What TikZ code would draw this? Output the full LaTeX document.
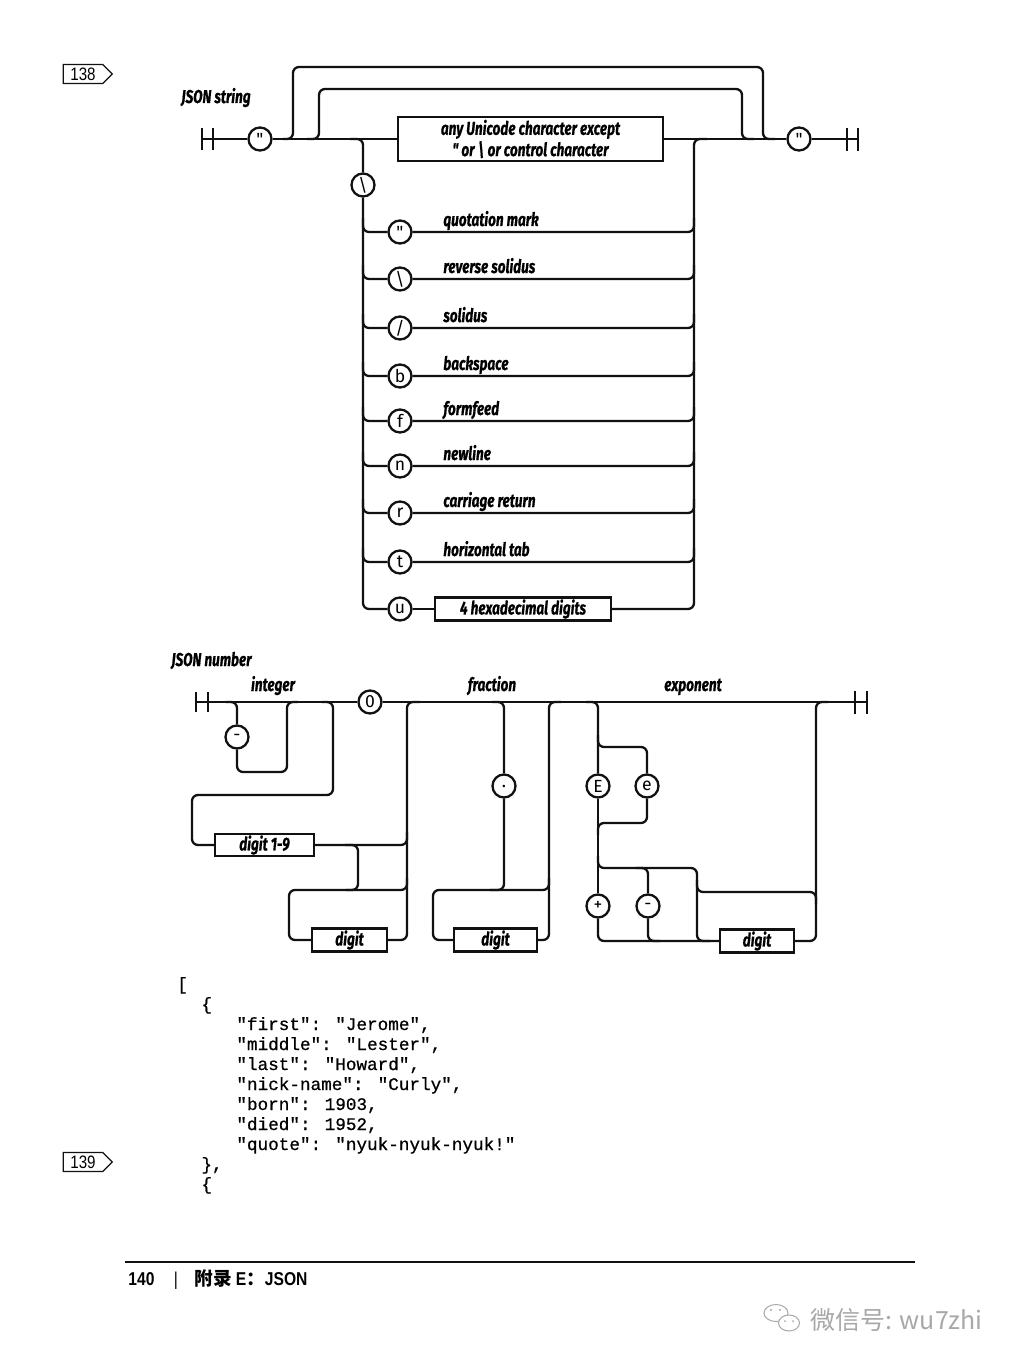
\documentclass[tikz,border=0pt]{standalone}
\usepackage{fontspec}
\setmainfont{Fira Sans}
\newfontfamily\railfont[FakeStretch=0.73, FakeBold=0.6]{Fira Sans}
\newfontfamily\tokfont{Fira Sans}
\newfontfamily\codefont[FakeBold=0.7]{Liberation Mono}
\newfontfamily\condfont[FakeStretch=0.84]{Liberation Sans}
\newfontfamily\cjkfont{Noto Sans CJK SC}
\usetikzlibrary{shapes.symbols}
\definecolor{pageink}{HTML}{111111}
\definecolor{wmgray}{HTML}{A8A8A8}
\tikzset{
  rail/.style={line width=1.15pt, rounded corners=3pt, color=pageink},
  endbar/.style={line width=1.15pt, color=pageink},
  tok/.style={circle, draw=pageink, line width=1.15pt, minimum size=11.5pt, inner sep=0pt, font=\tokfont\fontsize{8.8}{8.8}\selectfont},
  nt/.style={draw=pageink, line width=1.15pt, inner sep=0pt, minimum height=11.5pt, align=center, font=\railfont\bfseries\itshape\fontsize{9.3}{9.3}\selectfont},
  lbl/.style={anchor=base west, inner sep=0pt, font=\railfont\bfseries\itshape\fontsize{9.3}{9.5}\selectfont},
  code/.style={anchor=base west, inner sep=0pt, font=\codefont\fontsize{8.83}{10}\selectfont},
  tag/.style={signal, signal to=east, draw=pageink, line width=0.6pt, minimum width=24.5pt, minimum height=9.5pt, inner sep=0pt, font=\condfont\fontsize{9}{9}\selectfont},
  foot/.style={anchor=base west, inner sep=0pt, font=\condfont\bfseries\fontsize{9.3}{9.3}\selectfont},
}
\begin{document}
\begin{tikzpicture}[x=0.5pt,y=-0.5pt]
  \fill[white] (0,0) rectangle (1012,1364);
  \node[tag] (p138) at (83,74) {138};
  % JSON string
  \node[lbl] (strttl) at (181,103) {JSON string};
  \node[tok] (q1) at (260,139) {"};
  \node[nt, minimum width=132.5pt, minimum height=22pt, font=\railfont\bfseries\itshape\fontsize{9.3}{8.8}\selectfont] (anyc) at (530.5,139) {any Unicode character except\\" or \textbackslash{} or control character};
  \node[tok] (q2) at (799,139) {"};
  \node[tok] (bs) at (363,185) {\textbackslash};
  \draw[endbar] (202,128) -- (202,150) (213,128) -- (213,150);
  \draw[endbar] (847,128) -- (847,151) (858,128) -- (858,151);
  \draw[rail] (202,139) -- (q1) -- (anyc) -- (q2) -- (858,139);
  \draw[rail] (283,139) -- (293,139) -- (293,67) -- (763,67) -- (763,139) -- (775,139);
  \draw[rail] (307,139) -- (319,139) -- (319,89) -- (742,89) -- (742,139) -- (754,139);
  \draw[rail] (350,139) -| (bs);
  \foreach \y/\g/\t [count=\i] in {232/{"}/quotation mark, 279/\textbackslash/reverse solidus, 328/{/}/solidus, 376/b/backspace, 421/f/formfeed, 466/n/newline, 513/r/carriage return, 562/t/horizontal tab} {
    \node[tok] (esc\i) at (400,\y) {\g};
    \node[lbl] (esct\i) at (443,\y-6) {\t};
    \draw[rail] (363,\y-14) |- (esc\i);
    \draw[rail] (esc\i) -| (694,\y-14);
  }
  \node[tok] (escu) at (400,609) {u};
  \node[nt, minimum width=88pt] (hex) at (523,609) {4 hexadecimal digits};
  \draw[rail] (bs) |- (escu);
  \draw[rail] (escu) -- (hex);
  \draw[rail] (hex) -| (694,139) -- (707,139);
  % JSON number
  \node[lbl] (numttl) at (171,666) {JSON number};
  \node[lbl, anchor=base] (intlbl) at (273,691) {integer};
  \node[lbl, anchor=base] (fraclbl) at (492,691) {fraction};
  \node[lbl, anchor=base] (explbl) at (693,691) {exponent};
  \node[tok] (neg) at (237,737) {-};
  \node[tok] (zero) at (370,702) {0};
  \node[nt, minimum width=49.5pt, minimum height=11pt] (d19) at (264.5,845) {digit 1-9};
  \node[nt, minimum width=37.5pt] (dint) at (349.5,940) {digit};
  \node[tok] (dot) at (504,786) {.};
  \node[nt, minimum width=41.5pt] (dfrac) at (495.5,940) {digit};
  \node[tok] (bigE) at (598,786) {E};
  \node[tok] (smallE) at (647,786) {e};
  \node[tok] (plus) at (598,906) {+};
  \node[tok] (minus) at (648,906) {-};
  \node[nt, minimum width=37pt] (dexp) at (757,941) {digit};
  \draw[endbar] (196,692) -- (196,712) (208,692) -- (208,712);
  \draw[endbar] (855,691) -- (855,714) (867,691) -- (867,714);
  \draw[rail] (196,702) -- (zero) -- (867,702);
  \draw[rail] (226,702) -| (neg);
  \draw[rail] (neg) |- (287,772) -- (287,702) -- (298,702);
  \draw[rail] (322,702) -- (333,702) -- (333,795) -- (192,795) |- (d19);
  \draw[rail] (d19) -- (407,845) -- (407,832);
  \draw[rail] (345,845) -- (358,845) -- (358,890) -- (346,890);
  \draw[rail] (407,878) -- (407,890) -- (289,890) |- (dint);
  \draw[rail] (dint) -| (407,702) -- (420,702);
  \draw[rail] (492,702) -| (dot);
  \draw[rail] (dot) |- (490,890);
  \draw[rail] (549,878) -- (549,890) -- (433,890) |- (dfrac);
  \draw[rail] (dfrac) -| (549,702) -- (561,702);
  \draw[rail] (586,702) -| (bigE);
  \draw[rail] (598,735) -- (598,747) -| (smallE);
  \draw[rail] (smallE) |- (598,823) -- (598,835);
  \draw[rail] (bigE) -- (plus);
  \draw[rail] (plus) |- (dexp);
  \draw[rail] (598,856) -- (598,868) -| (minus);
  \draw[rail] (minus) |- (660,941);
  \draw[rail] (636,868) -- (697,868) -- (697,941) -- (710,941);
  \draw[rail] (697,880) -- (697,892) -- (816,892) -- (816,904);
  \draw[rail] (dexp) -| (816,702) -- (828,702);
  % example text
  \node[code] (c0) at (177,990) {[};
  \node[code] (c1) at (201,1010) {\{};
  \node[code] (c2) at (236,1030) {"first": "Jerome",};
  \node[code] (c3) at (236,1050) {"middle": "Lester",};
  \node[code] (c4) at (236,1070) {"last": "Howard",};
  \node[code] (c5) at (236,1090) {"nick-name": "Curly",};
  \node[code] (c6) at (236,1110) {"born": 1903,};
  \node[code] (c7) at (236,1130) {"died": 1952,};
  \node[code] (c8) at (236,1150) {"quote": "nyuk-nyuk-nyuk!"};
  \node[code] (c9) at (201,1170) {\},};
  \node[code] (c10) at (201,1190) {\{};
  \node[tag] (p139) at (83,1162) {139};
  % footer
  \draw[line width=0.8pt, pageink] (125,1262) -- (915,1262);
  \node[foot] (pgno) at (128,1285) {140};
  \node[foot, anchor=base, font=\condfont\fontsize{9.3}{9.3}\selectfont] (pgsep) at (176,1285) {|};
  \node[foot] (chap) at (194,1285) {{\cjkfont 附录} E{\cjkfont ：}JSON};
  \node[anchor=base west, inner sep=0pt, text=wmgray, font=\cjkfont\fontsize{12.5}{12.5}\selectfont] (wm) at (810,1329) {微信号: wu7zhi};
  \draw[wmgray, line width=0.5pt] (776,1313) ellipse [x radius=12, y radius=8.5];
  \draw[wmgray, line width=0.5pt, fill=white] (789,1323) ellipse [x radius=10.5, y radius=8];
  \fill[wmgray] (771,1310) circle [radius=1.2] (780,1310) circle [radius=1.2] (785,1321) circle [radius=1] (793,1321) circle [radius=1];
\end{tikzpicture}
\end{document}
